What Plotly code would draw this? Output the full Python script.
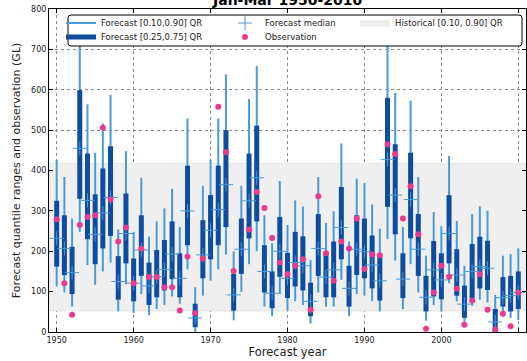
import plotly.graph_objects as go

years = list(range(1950, 2011))
q90 = [427, 384, 281, 760, 564, 444, 516, 587, 254, 448,
       248, 382, 236, 274, 306, 355, 260, 529, 111, 362,
       427, 529, 638, 200, 362, 577, 659, 289, 220, 374,
       265, 326, 311, 178, 384, 270, 299, 467, 224, 380,
       369, 316, 256, 760, 592, 260, 573, 384, 189, 297,
       262, 436, 275, 164, 292, 311, 300, 92, 189, 193,
       207]
q75 = [325, 289, 211, 599, 442, 341, 405, 460, 188, 343,
       182, 289, 172, 203, 228, 274, 195, 412, 70, 277,
       339, 412, 500, 144, 281, 442, 511, 215, 150, 285,
       196, 248, 237, 122, 292, 196, 224, 359, 164, 289,
       281, 239, 187, 580, 465, 195, 444, 292, 139, 225,
       195, 339, 205, 115, 218, 236, 226, 57, 136, 139,
       150]
q50 = [232, 207, 147, 455, 326, 242, 295, 333, 125, 244,
       121, 203, 114, 137, 155, 193, 133, 300, 35, 191,
       252, 303, 365, 92, 205, 325, 382, 150, 96, 200,
       133, 172, 164, 76, 207, 136, 154, 259, 108, 205,
       199, 166, 127, 427, 339, 131, 328, 205, 86, 154,
       129, 244, 141, 69, 150, 162, 158, 25, 85, 90,
       98]
q25 = [162, 141, 94, 330, 230, 168, 207, 238, 80, 170,
       76, 139, 67, 86, 103, 131, 86, 215, 12, 133,
       180, 215, 260, 53, 144, 232, 274, 98, 59, 137,
       84, 113, 103, 39, 139, 86, 86, 180, 63, 141,
       133, 108, 78, 310, 242, 84, 232, 139, 51, 88,
       81, 170, 90, 35, 84, 108, 104, 0, 63, 51,
       57]
q10 = [113, 98, 63, 248, 166, 117, 150, 172, 51, 118,
       47, 94, 42, 57, 67, 88, 70, 155, 0, 90,
       127, 155, 192, 29, 99, 168, 200, 63, 39, 94,
       53, 76, 67, 21, 98, 63, 63, 129, 39, 94,
       90, 76, 51, 230, 177, 57, 168, 98, 28, 67,
       51, 121, 76, 14, 65, 80, 73, 0, 39, 35,
       30]
obs = [279, 121, 43, 265, 285, 289, 506, 328, 224, 259,
       121, 206, 136, 136, 111, 111, 53, 187, 47, 182,
       None, 558, 445, 151, None, 254, 347, 307, 233, 172,
       143, 164, 180, 55, 336, 195, 127, 224, 207, 281,
       156, 192, 190, 465, 441, 281, 361, 242, 8, 98,
       164, 137, 107, 18, 78, 143, 55, 6, 45, 14,
       98]
hist_lo, hist_hi = 52, 418
x_lim = [1949, 2011]
y_lim = [0, 800]
x_ticks = [1950, 1960, 1970, 1980, 1990, 2000, 2010]
y_ticks = [0, 100, 200, 300, 400, 500, 600, 700, 800]

THIN = '#4b9ad6'
THICK = '#0d4c9e'
PINK = '#ea3a8e'


def segs(lo, hi):
    xs, ys = [], []
    for yr, a, b in zip(years, lo, hi):
        xs += [yr, yr, None]
        ys += [a, b, None]
    return xs, ys


fig = go.Figure()
fig.add_trace(go.Scatter(
    x=[x_lim[0], x_lim[1], x_lim[1], x_lim[0], x_lim[0]],
    y=[hist_lo, hist_lo, hist_hi, hist_hi, hist_lo],
    fill='toself', fillcolor='#efefef', mode='lines',
    line=dict(width=0.6, color='#d8d8d8'),
    name='Historical [0.10, 0.90] QR', legend='legend5'))
xs, ys = segs(q10, q90)
fig.add_trace(go.Scatter(x=xs, y=ys, mode='lines', line=dict(color=THIN, width=2),
                         name='Forecast [0.10,0.90] QR', legend='legend'))
xs, ys = segs(q25, q75)
fig.add_trace(go.Scatter(x=xs, y=ys, mode='lines', line=dict(color=THICK, width=5),
                         name='Forecast [0.25,0.75] QR', legend='legend2'))
fig.add_trace(go.Scatter(x=years, y=q50, mode='markers',
                         marker=dict(symbol='cross-thin', size=10, line=dict(color=THIN, width=1)),
                         name='Forecast median', legend='legend3'))
fig.add_trace(go.Scatter(x=years, y=obs, mode='markers',
                         marker=dict(symbol='circle', size=6, color=PINK),
                         name='Observation', legend='legend4'))

W, H = 527, 361
L, R, T, B = 49, 1, 9, 29
pw, ph = W - L - R, H - T - B


def px(x):
    return (x - L) / pw


def py(y):
    return (H - B - y) / ph


leg = dict(bgcolor='rgba(0,0,0,0)', borderwidth=0, font=dict(size=8.5, color='#222'),
           xanchor='left', yanchor='middle')
row1, row2 = py(23), py(37)
fig.update_layout(
    legend=dict(leg, x=px(61), y=row1),
    legend2=dict(leg, x=px(61), y=row2),
    legend3=dict(leg, x=px(225), y=row1),
    legend4=dict(leg, x=px(225), y=row2),
    legend5=dict(leg, x=px(355), y=row1),
)

# legend frame (rounded)
x0, x1, y0, y1 = px(68), px(522), py(46), py(15)
rx, ry = 3 / pw, 3 / ph
path = (f"M{x0+rx},{y0} L{x1-rx},{y0} Q{x1},{y0} {x1},{y0+ry} L{x1},{y1-ry} "
        f"Q{x1},{y1} {x1-rx},{y1} L{x0+rx},{y1} Q{x0},{y1} {x0},{y1-ry} "
        f"L{x0},{y0+ry} Q{x0},{y0} {x0+rx},{y0} Z")
fig.add_shape(type='path', path=path, xref='paper', yref='paper',
              line=dict(color='black', width=1), fillcolor='white', layer='above')

fig.add_annotation(text='<b>Jan-Mar 1950-2010</b>', xref='paper', yref='paper',
                   x=0.5, y=1, xanchor='center', yanchor='bottom', showarrow=False,
                   font=dict(size=14, color='black'), yshift=-1)

axis_common = dict(showline=True, linecolor='black', linewidth=1, mirror='ticks',
                   ticks='inside', ticklen=4, tickcolor='black', automargin=False,
                   showgrid=True, gridcolor='#8a8a8a', gridwidth=0.7, griddash='dot',
                   zeroline=False, tickfont=dict(size=8, color='#222'))
fig.update_xaxes(axis_common, range=x_lim, tickvals=x_ticks,
                 title=dict(text='Forecast year', font=dict(size=11.5, color='#222'), standoff=3))
fig.update_yaxes(axis_common, range=y_lim, tickvals=y_ticks,
                 title=dict(text='Forecast quantile ranges and observation (GL)',
                            font=dict(size=11, color='#222'), standoff=8))
fig.update_layout(width=W, height=H, margin=dict(l=L, r=R, t=T, b=B),
                  plot_bgcolor='white', paper_bgcolor='white',
                  font=dict(family='DejaVu Sans'), showlegend=True)
fig.write_html('out.html', config={'displayModeBar': False},
               post_script="document.body.style.margin='0';document.body.style.overflow='hidden';")
